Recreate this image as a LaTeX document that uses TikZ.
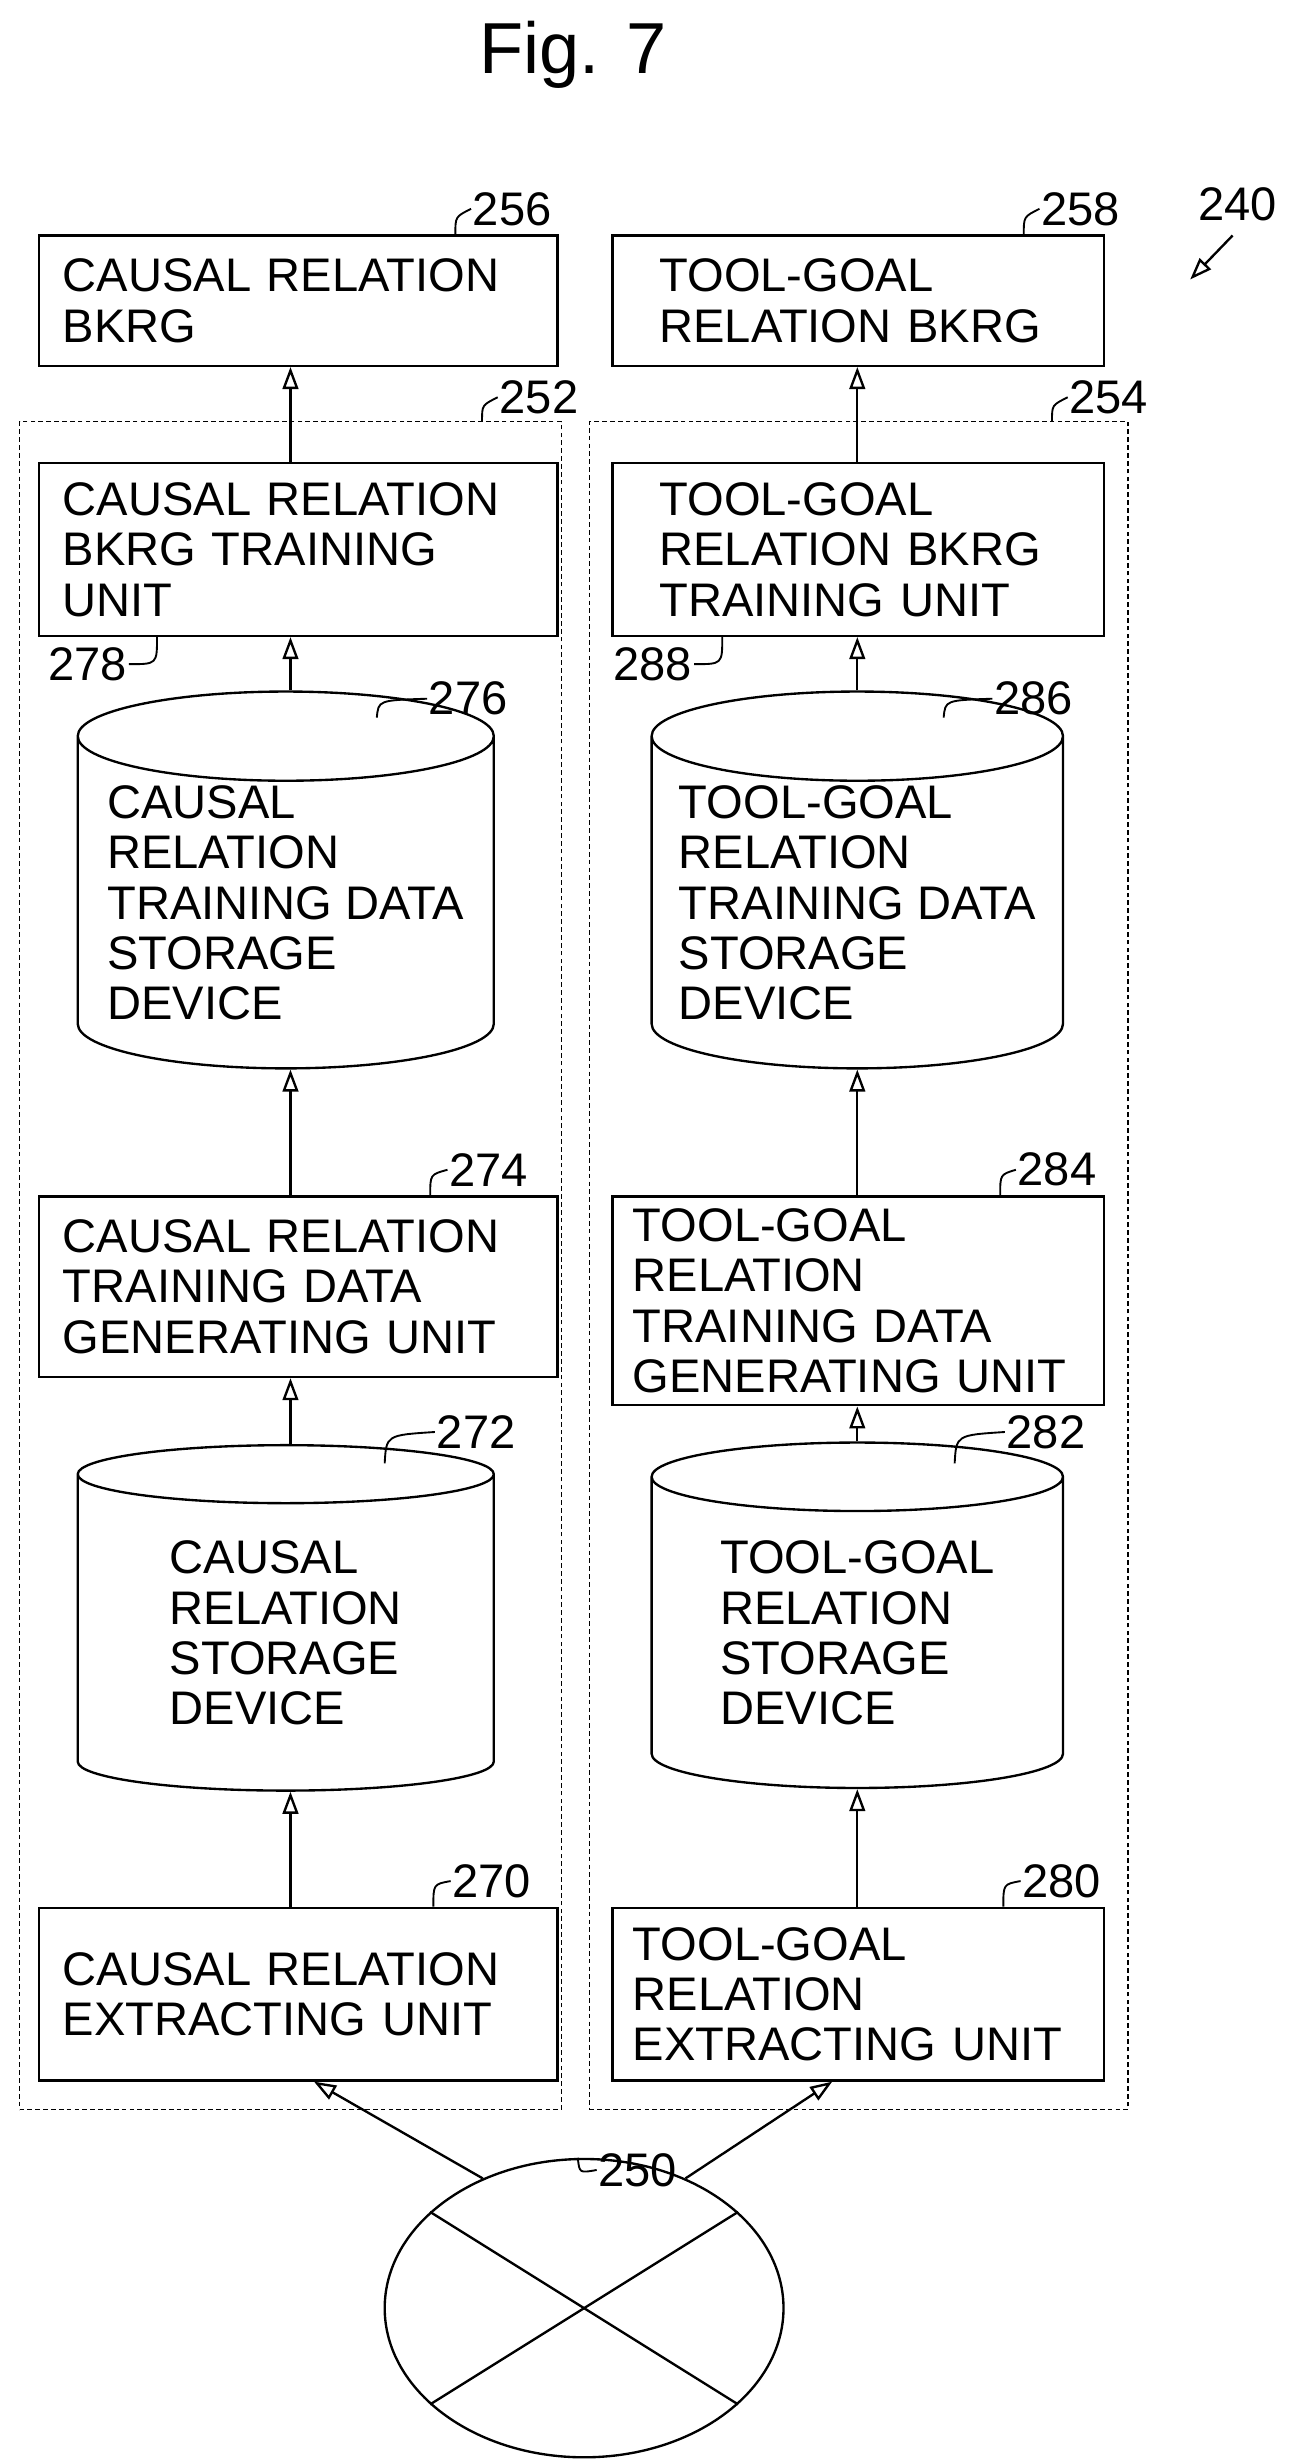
\documentclass[tikz,border=0pt]{standalone}
\usepackage{fontspec}
\setmainfont{Liberation Sans}
\usetikzlibrary{shapes.geometric,arrows.meta}

\tikzset{
  unit/.style={draw, line width=1.5pt, rectangle, align=left, inner sep=0pt,
    font=\fontsize{30}{32}\selectfont},
  store/.style={draw, line width=1.5pt, cylinder, shape border rotate=90, aspect=0.25,
    align=left, inner sep=0pt, font=\fontsize{30}{32}\selectfont},
  group/.style={draw, line width=1pt, densely dashed},
  ref/.style={font=\fontsize{30}{32}\selectfont, inner sep=1pt, anchor=west},
  lead/.style={line width=1.2pt},
  arr/.style={line width=1.5pt, -{Triangle[open, length=14pt, width=10pt]}}
}

\begin{document}
\begin{tikzpicture}[x=1pt, y=-1pt]
  \useasboundingbox (0,0) rectangle (830,1568);

  % title
  \node[font=\fontsize{46}{48}\selectfont] (fig) at (365,35) {Fig. 7};

  % system label
  \node[ref] (r240) at (762,130) {240};
  \coordinate (p240) at (758,178);
  \draw[arr] (785,150) -- (p240);

  % outer groups
  \node[group, minimum width=345, minimum height=1075, anchor=north west] (g252) at (12,268) {};
  \node[group, minimum width=343, minimum height=1075, anchor=north west] (g254) at (375,268) {};

  % left column
  \node[unit, minimum width=330, minimum height=83, text width=300] (b256) at (190,191.5) {CAUSAL RELATION\\BKRG};
  \node[unit, minimum width=330, minimum height=110, text width=300] (b278) at (190,350) {CAUSAL RELATION\\BKRG TRAINING\\UNIT};
  \node[store, minimum width=265, minimum height=240] (c276) at (182,575) {CAUSAL\\RELATION\\TRAINING DATA\\STORAGE\\DEVICE};
  \node[unit, minimum width=330, minimum height=115, text width=300] (b274) at (190,819.5) {CAUSAL RELATION\\TRAINING DATA\\GENERATING UNIT};
  \node[store, minimum width=265, minimum height=220] (c272) at (182,1040) {CAUSAL\\RELATION\\STORAGE\\DEVICE};
  \node[unit, minimum width=330, minimum height=110, text width=300] (b270) at (190,1270) {CAUSAL RELATION\\EXTRACTING UNIT};

  % right column
  \node[unit, minimum width=313, minimum height=83, text width=253] (b258) at (546.5,191.5) {TOOL-GOAL\\RELATION BKRG};
  \node[unit, minimum width=313, minimum height=110, text width=253] (b288) at (546.5,350) {TOOL-GOAL\\RELATION BKRG\\TRAINING UNIT};
  \node[store, minimum width=262, minimum height=240] (c286) at (546,575) {TOOL-GOAL\\RELATION\\TRAINING DATA\\STORAGE\\DEVICE};
  \node[unit, minimum width=313, minimum height=133, text width=287] (b284) at (546.5,828.5) {TOOL-GOAL\\RELATION\\TRAINING DATA\\GENERATING UNIT};
  \node[store, minimum width=262, minimum height=220] (c282) at (546,1040) {TOOL-GOAL\\RELATION\\STORAGE\\DEVICE};
  \node[unit, minimum width=313, minimum height=110, text width=287] (b280) at (546.5,1270) {TOOL-GOAL\\RELATION\\EXTRACTING UNIT};

  % source
  \node[draw, line width=1.5pt, ellipse, minimum width=254, minimum height=190] (e250) at (372,1470) {};
  \draw[line width=1.5pt] (e250.148) -- (e250.-32);
  \draw[line width=1.5pt] (e250.32) -- (e250.212);

  % flow arrows
  \draw[arr] (b278.north -| 185,0) -- (b256.south -| 185,0);
  \draw[arr] (c276.north -| 185,0) -- (b278.south -| 185,0);
  \draw[arr] (b274.north -| 185,0) -- (c276.south -| 185,0);
  \draw[arr] (c272.north -| 185,0) -- (b274.south -| 185,0);
  \draw[arr] (b270.north -| 185,0) -- (c272.south -| 185,0);
  \draw[arr] (b288.north -| 546,0) -- (b258.south -| 546,0);
  \draw[arr] (c286.north -| 546,0) -- (b288.south -| 546,0);
  \draw[arr] (b284.north -| 546,0) -- (c286.south -| 546,0);
  \draw[arr] (c282.north -| 546,0) -- (b284.south -| 546,0);
  \draw[arr] (b280.north -| 546,0) -- (c282.south -| 546,0);
  \draw[arr] (e250.128) -- (b270.south -| 200,0);
  \draw[arr] (e250.52) -- (b280.south -| 530,0);

  % reference numerals
  \node[ref] (r256) at (300,133) {256};
  \node[ref] (r258) at (662,133) {258};
  \node[ref] (r252) at (317,253) {252};
  \node[ref] (r254) at (680,253) {254};
  \node[ref, anchor=east] (r278) at (82,423) {278};
  \node[ref, anchor=east] (r288) at (442,423) {288};
  \node[ref] (r276) at (272,445) {276};
  \node[ref] (r286) at (632,445) {286};
  \node[ref] (r274) at (285,745) {274};
  \node[ref] (r284) at (647,745) {284};
  \node[ref] (r272) at (277,912) {272};
  \node[ref] (r282) at (640,912) {282};
  \node[ref] (r270) at (287,1198) {270};
  \node[ref] (r280) at (650,1198) {280};
  \node[ref] (r250) at (380,1382) {250};

  % leaders
  \draw[lead] (b256.north -| 290,0) .. controls (290,138) .. (r256.west);
  \draw[lead] (b258.north -| 652,0) .. controls (652,138) .. (r258.west);
  \draw[lead] (g252.north -| 307,0) .. controls (307,258) .. (r252.west);
  \draw[lead] (g254.north -| 670,0) .. controls (670,258) .. (r254.west);
  \draw[lead] (b278.south -| 100,0) .. controls (100,423) .. (r278.east);
  \draw[lead] (b288.south -| 460,0) .. controls (460,423) .. (r288.east);
  \draw[lead] (240,457) .. controls (241,446) .. (r276.west);
  \draw[lead] (601,457) .. controls (602,446) .. (r286.west);
  \draw[lead] (b274.north -| 274,0) .. controls (274,748) .. (r274.west);
  \draw[lead] (b284.north -| 637,0) .. controls (637,748) .. (r284.west);
  \draw[lead] (245,932) .. controls (246,914) .. (r272.west);
  \draw[lead] (608,932) .. controls (609,914) .. (r282.west);
  \draw[lead] (b270.north -| 276,0) .. controls (276,1200) .. (r270.west);
  \draw[lead] (b280.north -| 639,0) .. controls (639,1200) .. (r280.west);
  \draw[lead] (e250.north -| 368,0) .. controls (369,1384) .. (r250.west);
\end{tikzpicture}
\end{document}
